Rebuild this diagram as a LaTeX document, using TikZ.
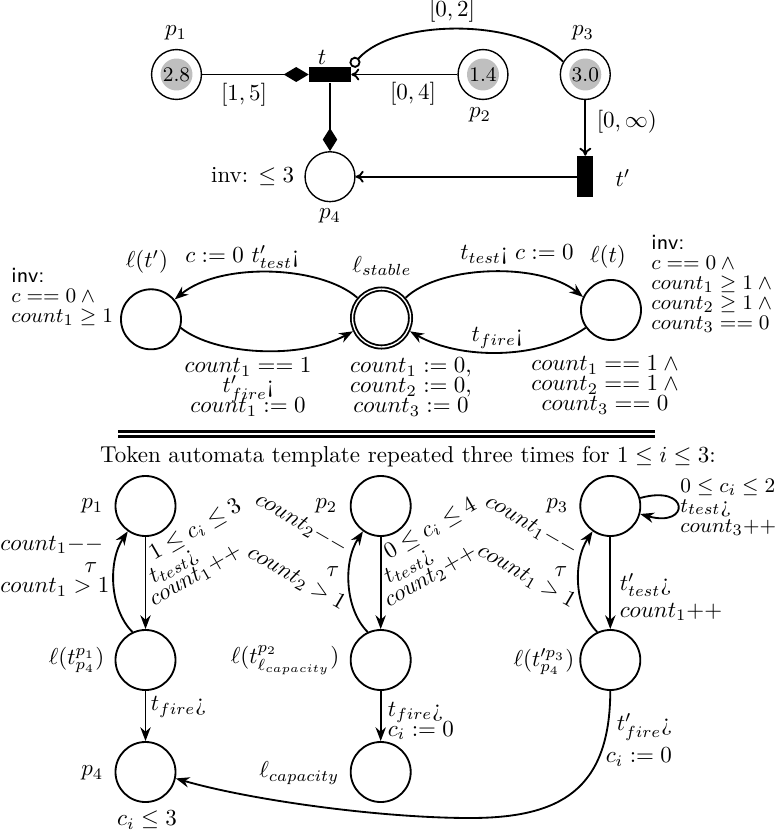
\documentclass[tikz,border=0pt]{standalone}
\usetikzlibrary{arrows.meta}
\newcommand{\tightlines}{\fontsize{9.4}{8.7}\selectfont\lineskiplimit-20pt\relax}
\newcommand{\tightlinesb}{\fontsize{10}{8.7}\selectfont\lineskiplimit-20pt\relax}
\begin{document}
\begin{tikzpicture}[x=0.4348pt,y=-0.4348pt,
  place/.style={circle,draw,line width=0.6pt,minimum size=21.7pt,inner sep=0pt},
  tok/.style={circle,fill=gray!50,minimum size=13.9pt,inner sep=0pt,font=\small},
  trans/.style={rectangle,fill=black,inner sep=0pt},
  st/.style={circle,draw,thick,minimum size=26.1pt,inner sep=0pt},
  acc/.style={st,double,double distance=0.6pt,minimum size=25.2pt,outer sep=1.1pt},
  pnedge/.style={thick},
  totip/.style={-{To[length=3.5pt,width=5.2pt]}},
  aut/.style={thick,-{Stealth[length=6pt,width=4.5pt]}},
  blk/.style={inner sep=0pt,font=\tightlines},
  blkb/.style={inner sep=1pt,font=\tightlinesb},
  lb/.style={inner sep=1pt}]
\useasboundingbox (0,0) rectangle (780,838);
% ---------------- Petri net ----------------
\node[place] (p1) at (176.5,74.5) {};
\node[tok] (k1) at (p1) {2.8};
\node[place] (p2) at (483,74.5) {};
\node[tok] (k2) at (p2) {1.4};
\node[place] (p3) at (585.3,74.5) {};
\node[tok] (k3) at (p3) {3.0};
\node[trans,minimum width=18.1pt,minimum height=6.65pt] (t) at (330,74.5) {};
\node[place] (p4) at (330,176.7) {};
\node[trans,minimum width=7pt,minimum height=17.8pt] (tp) at (585.3,176.7) {};
\node[lb] (lp1) at (176,33) {$p_1$};
\node[lb] (lp2) at (480,115) {$p_2$};
\node[lb] (lp3) at (583,33) {$p_3$};
\node[lb] (lt) at (322,57) {$t$};
\node[lb] (lp4) at (330,216) {$p_4$};
\node[lb,anchor=east] (inv4) at (297,177) {inv: $\leq 3$};
\node[lb] (ltp) at (623,178) {$t'$};
\draw[pnedge,-{Diamond[length=10.9pt,width=6.5pt]}] (p1) -- (t);
\draw[pnedge,totip] (p2) -- (t);
\draw[pnedge,-{Diamond[length=10pt,width=6.3pt]}] (t) -- (p4);
\draw[pnedge,totip] (p3) -- (tp);
\draw[pnedge,totip] (tp) -- (p4);
\draw[pnedge,-{Circle[open,length=4.8pt]}] (p3.150) .. controls (520,18) and (395,18) .. (t.north east);
\node[lb] (e15) at (244,95) {$[1,5]$};
\node[lb] (e04) at (413,94) {$[0,4]$};
\node[lb] (e02) at (452,11) {$[0,2]$};
\node[lb,anchor=west] (e0inf) at (594,122) {$[0,\infty)$};
% ---------------- middle automaton ----------------
\node[st] (lt1) at (151,319.3) {};
\node[acc] (ls) at (381.5,318) {};
\node[st] (lt2) at (611,310) {};
\node[lb] (llt1) at (147,262) {$\ell(t')$};
\node[lb] (ea) at (242,257) {$c := 0$ $t'_{test}$¡};
\node[lb] (lls) at (382,266) {$\ell_{stable}$};
\node[lb] (eb) at (517,255) {$t_{test}$¡ $c := 0$};
\node[lb] (llt2) at (608,257) {$\ell(t)$};
\node[lb] (ec) at (497,338) {$t_{fire}$¡};
\node[blk,align=left,anchor=west] (inv1) at (11,297) {\textsf{inv:}\\$c == 0\:\wedge$\\$count_1 \geq 1$};
\node[blk,align=left,anchor=west] (inv2) at (651,284) {\textsf{inv:}\\$c == 0\:\wedge$\\$count_1\geq 1\:\wedge$\\$count_2\geq 1\:\wedge$\\$count_3 == 0$};
\node[blkb,align=center] (ed) at (248,387) {$count_1 == 1$\\$t'_{fire}$¡\\$count_1 := 0$};
\node[blkb,align=center] (ee) at (411,387) {$count_1 := 0,$\\$count_2 := 0,$\\$count_3 := 0$};
\node[blkb,align=center] (ef) at (605,385) {$count_1 == 1\:\wedge$\\$count_2 == 1\:\wedge$\\$count_3 == 0$};
\draw[aut] (ls.140) .. controls (320,265) and (220,262) .. (lt1.40);
\draw[aut] (lt1.-16) .. controls (215,355) and (300,360) .. (ls.205);
\draw[aut] (ls.40) .. controls (440,265) and (540,262) .. (lt2.155);
\draw[aut] (lt2.215) .. controls (540,360) and (460,360) .. (ls.-25);
% ---------------- separator and title ----------------
\coordinate (sa) at (118,434);
\coordinate (sb) at (655,434);
\draw[line width=1.4pt,double,double distance=0.75pt] (sa) -- (sb);
\node[lb] (title) at (408,457) {Token automata template repeated three times for $1\leq i\leq 3$:};
% ---------------- token automata ----------------
\node[st] (P1) at (145.5,506) {};
\node[st] (L1) at (145.5,660) {};
\node[st] (P4) at (145.5,772) {};
\node[st] (P2) at (380.7,506) {};
\node[st] (L2) at (380.7,660) {};
\node[st] (LC) at (380.7,772) {};
\node[st] (P3) at (610.3,506) {};
\node[st] (L3) at (610.3,660) {};
\coordinate (bk) at (470,818);
% column 1
\draw[aut] (P1) -- (L1);
\draw[aut] (L1.115) .. controls +(-23,-23) and +(-20,30) .. (P1.235);
\draw[aut] (L1) -- (P4);
\node[lb,anchor=east] (lP1) at (106,506) {$p_1$};
\node[lb,anchor=east] (lL1) at (107,660) {$\ell(t^{p_1}_{p_4})$};
\node[lb,anchor=east] (lP4) at (106,773) {$p_4$};
\node[lb] (iP4) at (147,820) {$c_i\leq 3$};
\node[lb,anchor=west,rotate=30] (g1) at (149,557) {$1\leq c_i\leq 3$};
\node[lb,anchor=west,rotate=30] (s1) at (149,581) {$t_{test}$¿};
\node[lb,anchor=west,rotate=30] (u1) at (149,603) {$count_1{+}{+}$};
\node[inner sep=0pt,anchor=west] (b1) at (0,545) {$count_1{-}{-}$};
\node[lb] (tau1) at (91,568) {$\tau$};
\node[inner sep=0pt,anchor=west] (c1) at (0,587) {$count_1>1$};
\node[lb,anchor=west] (f1) at (148,707) {$t_{fire}$¿};
% column 2
\draw[aut] (P2) -- (L2);
\draw[aut] (L2.115) .. controls +(-23,-23) and +(-20,30) .. (P2.235);
\draw[aut] (L2) -- (LC);
\node[lb,anchor=east] (lP2) at (340,506) {$p_2$};
\node[lb,anchor=east] (lL2) at (342,660) {$\ell(t^{p_2}_{\ell_{capacity}})$};
\node[lb,anchor=east] (lLC) at (342,773) {$\ell_{capacity}$};
\node[lb,anchor=west,rotate=30] (g2) at (384,556) {$0\leq c_i\leq 4$};
\node[lb,anchor=west,rotate=30] (s2) at (384,581) {$t_{test}$¿};
\node[lb,anchor=west,rotate=30] (u2) at (384,604) {$count_2{+}{+}$};
\node[lb,anchor=east,rotate=-30] (b2) at (348,551) {$count_2{-}{-}$};
\node[lb] (tau2) at (333,572) {$\tau$};
\node[lb,anchor=east,rotate=-30] (c2) at (346,607) {$count_2>1$};
\node[blkb,align=left,anchor=west] (f2) at (385,721) {$t_{fire}$¿\\$c_i:=0$};
% column 3
\draw[aut] (P3) -- (L3);
\draw[aut] (L3.115) .. controls +(-23,-23) and +(-20,30) .. (P3.235);
\draw[aut] (P3.15) .. controls +(50,-14) and +(50,14) .. (P3.-15);
\draw[aut] (L3.south) .. controls (610,790) and (560,818) .. (bk) .. controls (380,818) and (250,800) .. (P4.-12);
\node[lb,anchor=east] (lP3) at (571,506) {$p_3$};
\node[lb,anchor=east] (lL3) at (577,662) {$\ell(t'^{p_3}_{p_4})$};
\node[lb,anchor=east,rotate=-30] (b3) at (578,553) {$count_1{-}{-}$};
\node[lb] (tau3) at (561,572) {$\tau$};
\node[lb,anchor=east,rotate=-30] (c3) at (576,605) {$count_1>1$};
\node[lb,anchor=west] (s3) at (617,585) {$t'_{test}$¿};
\node[lb,anchor=west] (u3) at (617,612) {$count_1{+}{+}$};
\node[blk,align=left,anchor=west] (loop3) at (680,507) {$0\leq c_i\leq 2$\\$t_{test}$¿\\$count_3{+}{+}$};
\node[lb,anchor=west] (f3) at (614,727) {$t'_{fire}$¿};
\node[lb,anchor=west] (r3) at (603,757) {$c_i:=0$};
\end{tikzpicture}
\end{document}
